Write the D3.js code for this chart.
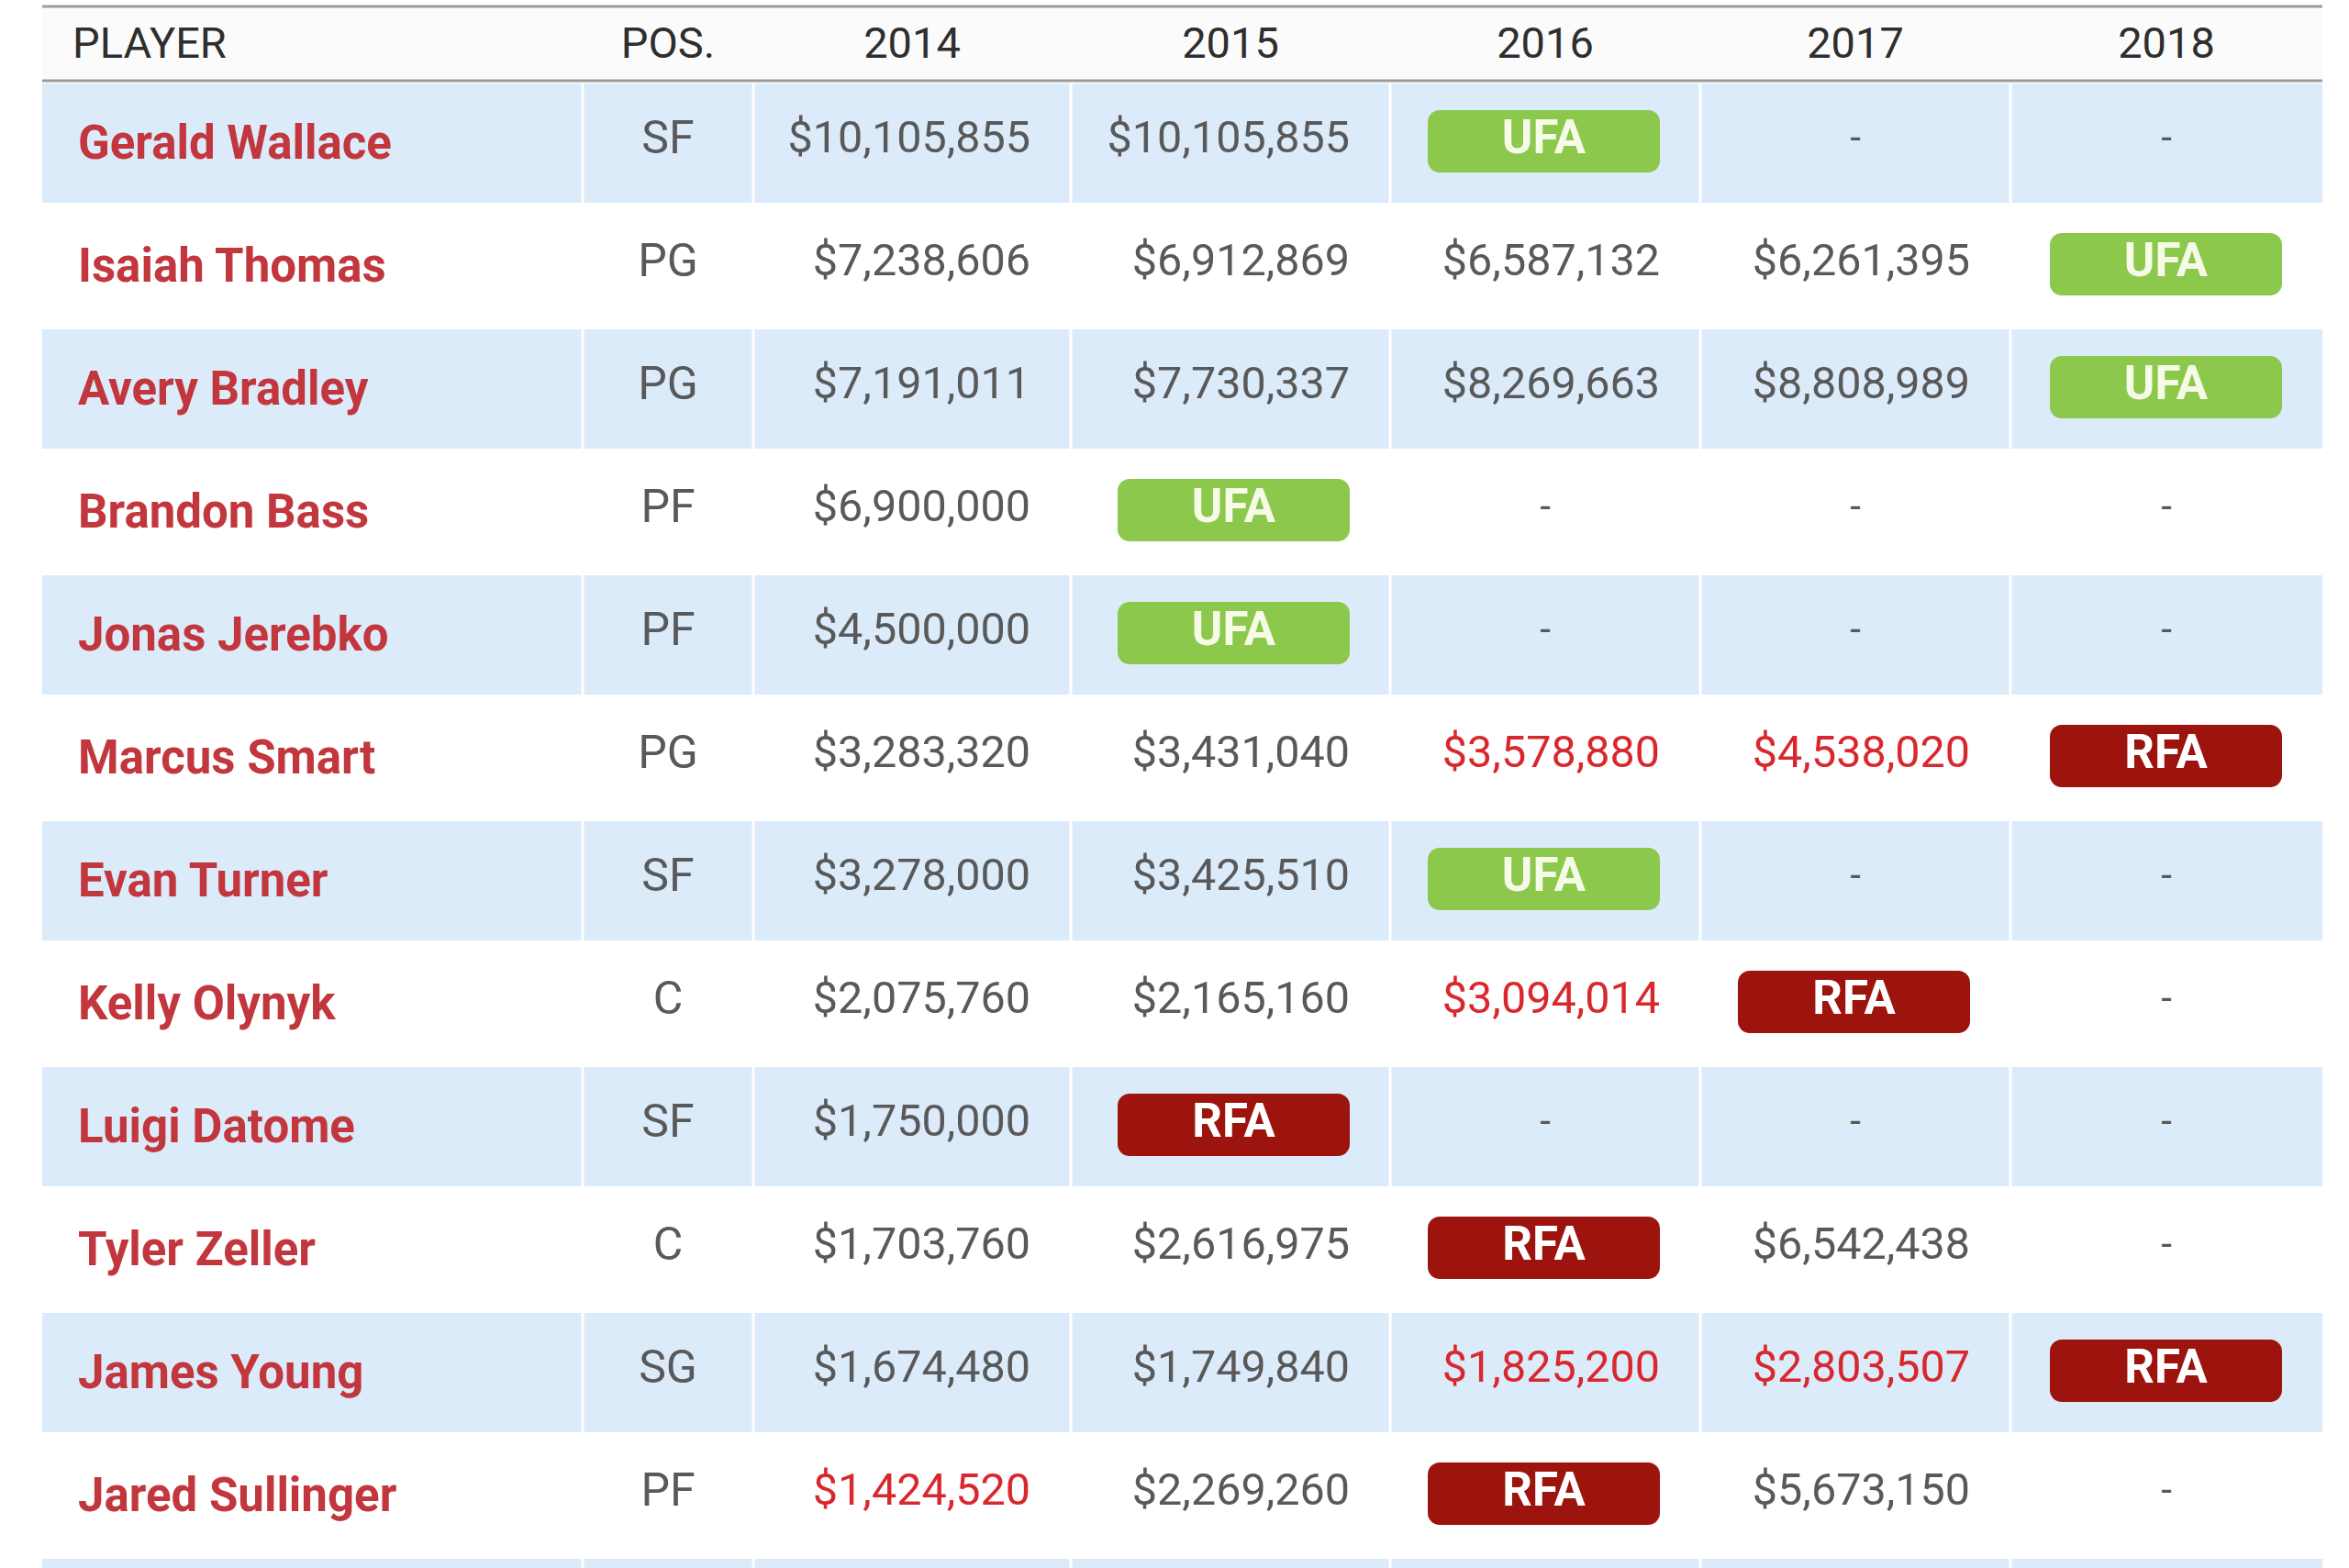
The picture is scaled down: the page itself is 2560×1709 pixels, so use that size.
<!DOCTYPE html>
<html>
<head>
<meta charset="utf-8">
<script src="https://cdn.jsdelivr.net/npm/d3@7"></script>
<style>
  html, body { margin: 0; padding: 0; background: #ffffff; }
  svg { display: block; }
  text { font-family: Roboto, "Noto Sans", "Liberation Sans", sans-serif; }
</style>
</head>
<body>
<svg id="chart" width="2560" height="1709"></svg>
<script>
// ---- data ----
const headers = ["PLAYER", "POS.", "2014", "2015", "2016", "2017", "2018"];
const years = ["2014", "2015", "2016", "2017", "2018"];
const players = ["Gerald Wallace", "Isaiah Thomas", "Avery Bradley", "Brandon Bass", "Jonas Jerebko",
  "Marcus Smart", "Evan Turner", "Kelly Olynyk", "Luigi Datome", "Tyler Zeller", "James Young", "Jared Sullinger"];
const positions = ["SF", "PG", "PG", "PF", "PF", "PG", "SF", "C", "SF", "C", "SG", "PF"];
const salary2014 = [10105855, 7238606, 7191011, 6900000, 4500000, 3283320, 3278000, 2075760, 1750000, 1703760, 1674480, 1424520];
const salary2015 = [10105855, 6912869, 7730337, "UFA", "UFA", 3431040, 3425510, 2165160, "RFA", 2616975, 1749840, 2269260];
const salary2016 = ["UFA", 6587132, 8269663, "-", "-", 3578880, "UFA", 3094014, "-", "RFA", 1825200, "RFA"];
const salary2017 = ["-", 6261395, 8808989, "-", "-", 4538020, "-", "RFA", "-", 6542438, 2803507, 5673150];
const salary2018 = ["-", "UFA", "UFA", "-", "-", "RFA", "-", "-", "-", "-", "RFA", "-"];
// cells shown in red (team option / rookie scale years)
const redCells = [
  ["Marcus Smart", "2016"], ["Marcus Smart", "2017"],
  ["Kelly Olynyk", "2016"],
  ["James Young", "2016"], ["James Young", "2017"],
  ["Jared Sullinger", "2014"]
];

// ---- layout ----
const salaryByYear = { "2014": salary2014, "2015": salary2015, "2016": salary2016, "2017": salary2017, "2018": salary2018 };
const colEdges = [46, 635, 821, 1167, 1515, 1853, 2191, 2531];
const tableLeft = colEdges[0], tableRight = colEdges[colEdges.length - 1];
const headerTop = 7, headerBottom = 88;
const rowStart = 91, rowPitch = 134;
const nRowsDrawn = players.length + 1; // one more partially visible row at the bottom

const colX = d3.scaleOrdinal().domain(headers).range(colEdges.slice(0, 7));
const colW = d3.scaleOrdinal().domain(headers).range(colEdges.slice(1).map((e, i) => e - colEdges[i]));
const y = d3.scaleBand().domain(d3.range(nRowsDrawn)).range([rowStart, rowStart + nRowsDrawn * rowPitch]).padding(0);

const fmt = d3.format("$,");
const redSet = new Set(redCells.map(d => d[0] + "|" + d[1]));

const C = {
  shade: "#dcebfa",
  name: "#c2373d",
  value: "#595959",
  red: "#d8282e",
  ufa: "#8cc84b",
  ufaText: "#f6fbe8",
  rfa: "#9c140d",
  header: "#2e2e2e",
  rule: "#9c9c9c"
};

const svg = d3.select("#chart");

// header background
svg.append("rect").attr("x", tableLeft).attr("y", headerTop).attr("width", tableRight - tableLeft)
  .attr("height", headerBottom - headerTop).attr("fill", "#fbfbfb");

// row backgrounds
const rowIdx = d3.range(nRowsDrawn);
svg.append("g").selectAll("rect").data(rowIdx).join("rect")
  .attr("x", tableLeft).attr("y", d => y(d))
  .attr("width", tableRight - tableLeft).attr("height", d => d % 2 === 0 ? y.bandwidth() - 4 : y.bandwidth())
  .attr("fill", d => d % 2 === 0 ? C.shade : "#ffffff");

// vertical white separators
svg.append("g").selectAll("line").data(headers.slice(1)).join("line")
  .attr("x1", d => colX(d)).attr("x2", d => colX(d))
  .attr("y1", headerBottom).attr("y2", 1709)
  .attr("stroke", "#ffffff").attr("stroke-width", 3);

// header rules
svg.append("line").attr("x1", tableLeft).attr("x2", tableRight).attr("y1", headerTop).attr("y2", headerTop)
  .attr("stroke", C.rule).attr("stroke-width", 3);
svg.append("line").attr("x1", tableLeft).attr("x2", tableRight).attr("y1", headerBottom).attr("y2", headerBottom)
  .attr("stroke", C.rule).attr("stroke-width", 3);

// header labels
svg.append("g").selectAll("text").data(headers).join("text")
  .attr("x", d => d === "PLAYER" ? colX(d) + 33 : colX(d) + colW(d) / 2)
  .attr("y", 46)
  .attr("dy", "0.36em")
  .attr("text-anchor", d => d === "PLAYER" ? "start" : "middle")
  .attr("font-size", 47)
  .attr("fill", C.header)
  .text(d => d);

// rows
const rows = svg.append("g").selectAll("g").data(players).join("g")
  .attr("transform", (d, i) => `translate(0,${y(i) + y.bandwidth() / 2})`);

rows.append("text")
  .attr("x", colX("PLAYER") + 39)
  .attr("y", -3)
  .attr("dy", "0.36em")
  .attr("font-size", 51)
  .attr("font-weight", "bold")
  .attr("fill", C.name)
  .text(d => d);

rows.append("text")
  .attr("x", colX("POS.") + colW("POS.") / 2)
  .attr("y", -9)
  .attr("dy", "0.36em")
  .attr("text-anchor", "middle")
  .attr("font-size", 50)
  .attr("fill", C.value)
  .text((d, i) => positions[i]);

years.forEach(yr => {
  const vals = salaryByYear[yr];
  const cell = rows.append("g");
  cell.each(function (p, i) {
    const v = vals[i];
    const g = d3.select(this);
    const right = colX(yr) + colW(yr) - 44;
    if (v === "UFA" || v === "RFA") {
      const w = 253, h = 68;
      g.append("rect")
        .attr("x", right - w).attr("y", -h / 2 - 4)
        .attr("width", w).attr("height", h)
        .attr("rx", 13)
        .attr("fill", v === "UFA" ? C.ufa : C.rfa);
      g.append("text")
        .attr("x", right - w / 2).attr("y", -9)
        .attr("dy", "0.36em")
        .attr("text-anchor", "middle")
        .attr("font-size", 51).attr("font-weight", "bold")
        .attr("fill", v === "UFA" ? C.ufaText : "#ffffff")
        .text(v);
    } else if (v === "-") {
      g.append("text")
        .attr("x", colX(yr) + colW(yr) / 2).attr("y", -9)
        .attr("dy", "0.36em")
        .attr("text-anchor", "middle")
        .attr("font-size", 42)
        .attr("fill", C.value)
        .text("-");
    } else {
      g.append("text")
        .attr("x", right).attr("y", -9)
        .attr("dy", "0.36em")
        .attr("text-anchor", "end")
        .attr("font-size", 48.5)
        .attr("fill", redSet.has(p + "|" + yr) ? C.red : C.value)
        .text(fmt(v));
    }
  });
});
</script>
</body>
</html>
